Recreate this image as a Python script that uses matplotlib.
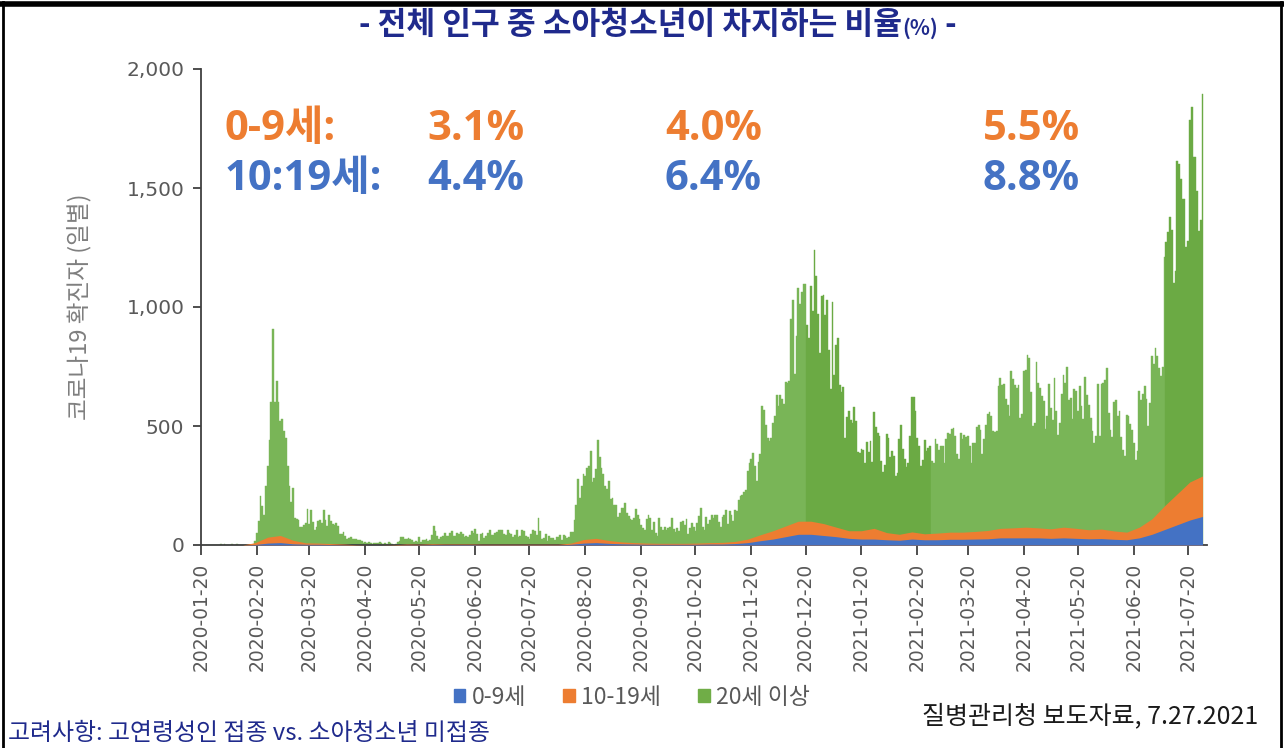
import numpy as np
import pandas as pd
import matplotlib
matplotlib.use('Agg')
import matplotlib.pyplot as plt
import matplotlib.dates as mdates
from matplotlib.patches import Patch
from matplotlib.lines import Line2D

plt.rcParams['font.family'] = ['Noto Sans CJK KR', 'DejaVu Sans']

# daily confirmed cases, all ages (2020-01-20 .. 2021-07-28)
total_2020_01 = [1, 0, 0, 0, 1, 0, 1, 1, 0, 0, 2, 5]
total_2020_02 = [1, 3, 0, 1, 2, 4, 1, 0, 3, 0, 1, 0, 0, 0, 0, 1, 0, 1, 15, 50,
                 100, 205, 165, 125, 250, 330, 440, 600, 909]
total_2020_03 = [600, 690, 600, 520, 530, 480, 450, 330, 250, 180, 240, 114, 110, 107, 76, 74,
                 84, 93, 152, 87, 147, 98, 64, 76, 100, 104, 91, 146, 105, 78, 125]
total_2020_04 = [101, 89, 86, 94, 81, 47, 47, 53, 39, 27, 30, 32, 25, 27, 27, 22, 22, 18, 8, 13,
                 9, 11, 8, 6, 10, 10, 10, 14, 9, 4]
total_2020_05 = [9, 6, 13, 8, 3, 2, 4, 12, 18, 34, 35, 27, 26, 29, 27, 19, 13, 15, 13, 32,
                 12, 20, 23, 25, 16, 19, 40, 79, 58, 39, 27]
total_2020_06 = [35, 38, 49, 39, 39, 51, 57, 38, 38, 50, 45, 56, 48, 34, 37, 34, 43, 59, 49, 67,
                 48, 17, 46, 51, 28, 39, 51, 62, 42, 43]
total_2020_07 = [50, 54, 63, 63, 61, 46, 44, 63, 49, 45, 35, 44, 62, 33, 39, 61, 60, 39, 34, 26,
                 45, 63, 59, 41, 113, 58, 25, 28, 48, 18, 36]
total_2020_08 = [31, 30, 23, 34, 33, 43, 20, 43, 36, 28, 34, 54, 56, 103, 166, 279, 197, 246, 297, 288,
                 324, 332, 397, 266, 280, 320, 441, 371, 323, 299, 248]
total_2020_09 = [235, 267, 195, 198, 168, 167, 119, 136, 156, 155, 176, 136, 121, 109, 106, 113, 153, 126, 110, 82,
                 70, 61, 110, 125, 114, 61, 95, 50, 38, 113]
total_2020_10 = [77, 63, 75, 64, 73, 75, 114, 69, 54, 72, 58, 98, 102, 84, 110, 47, 73, 91, 76, 58,
                 91, 121, 155, 77, 61, 119, 88, 103, 125, 114, 127]
total_2020_11 = [124, 97, 75, 118, 125, 145, 89, 143, 126, 100, 146, 143, 191, 205, 208, 223, 230, 313, 343, 363,
                 386, 330, 271, 349, 382, 583, 569, 504, 450, 438]
total_2020_12 = [451, 511, 540, 629, 583, 631, 615, 594, 686, 682, 689, 950, 1030, 718, 880, 1078, 1014, 1064, 1097, 1097,
                 926, 869, 1090, 985, 1241, 1132, 970, 808, 1045, 1050, 967]
total_2021_01 = [1029, 820, 657, 1020, 715, 840, 869, 674, 641, 665, 451, 537, 562, 524, 513, 580, 520, 389, 386, 404,
                 400, 346, 431, 392, 437, 349, 559, 497, 469, 458, 355]
total_2021_02 = [305, 336, 467, 451, 370, 393, 372, 288, 303, 444, 504, 403, 362, 326, 344, 457, 621, 621, 561, 448,
                 416, 332, 356, 440, 396, 406, 415, 355]
total_2021_03 = [344, 444, 424, 398, 418, 416, 346, 446, 470, 465, 488, 490, 459, 382, 363, 469, 445, 463, 452, 456,
                 415, 346, 428, 430, 494, 505, 482, 382, 447, 506, 551]
total_2021_04 = [557, 543, 477, 473, 478, 668, 700, 671, 677, 614, 587, 542, 731, 698, 673, 658, 672, 532, 549, 731,
                 735, 797, 785, 644, 499, 512, 769, 679, 661, 627]
total_2021_05 = [606, 488, 541, 676, 574, 525, 701, 564, 463, 511, 635, 715, 681, 747, 610, 619, 528, 654, 646, 561,
                 666, 585, 530, 707, 629, 588, 533, 478, 430, 459, 677]
total_2021_06 = [459, 677, 681, 695, 744, 556, 485, 454, 602, 611, 540, 565, 452, 399, 373, 545, 540, 507, 482, 429,
                 357, 395, 645, 610, 634, 668, 614, 501, 595, 794]
total_2021_07 = [762, 826, 794, 743, 711, 746, 1212, 1275, 1316, 1378, 1324, 1100, 1150, 1615, 1600, 1536, 1452, 1454, 1252, 1278,
                 1784, 1842, 1630, 1629, 1487, 1318, 1365, 1896]

# weekly level of the two youngest groups (every 7 days from 2020-01-22)
age_0_9 = [0, 0, 0, 0, 2, 8, 10, 5, 3, 3, 2, 1, 0, 0, 0, 0, 1, 1, 2, 2,
           2, 2, 1, 1, 1, 1, 1, 1, 1, 3, 8, 10, 7, 5, 4, 3, 3, 3, 3, 3,
           4, 4, 6, 10, 18, 25, 35, 45, 45, 40, 35, 28, 25, 25, 22, 20, 25, 22, 22, 24,
           24, 25, 26, 30, 30, 30, 30, 28, 30, 28, 26, 27, 24, 22, 30, 45, 65, 85, 105, 120]
age_10_19 = [0, 0, 0, 0, 8, 25, 30, 15, 6, 5, 4, 3, 1, 0, 0, 1, 3, 2, 3, 2,
             2, 2, 2, 2, 2, 2, 2, 2, 2, 5, 15, 18, 12, 8, 6, 5, 4, 4, 4, 5,
             6, 7, 9, 15, 25, 35, 45, 55, 55, 50, 40, 32, 35, 45, 30, 25, 30, 25, 28, 30,
             30, 32, 35, 40, 42, 45, 42, 40, 45, 42, 38, 40, 35, 32, 45, 65, 100, 130, 160, 170]

labels = ['0-9세', '10-19세', '20세 이상']
colors = ['#4472C4', '#ED7D31', '#70AD47']

note_rows = ['0-9세:', '10:19세:']
note_pcts = [['3.1%', '4.0%', '5.5%'], ['4.4%', '6.4%', '8.8%']]

total = np.array(total_2020_01 + total_2020_02 + total_2020_03 + total_2020_04 + total_2020_05 +
                 total_2020_06 + total_2020_07 + total_2020_08 + total_2020_09 + total_2020_10 +
                 total_2020_11 + total_2020_12 + total_2021_01 + total_2021_02 + total_2021_03 +
                 total_2021_04 + total_2021_05 + total_2021_06 + total_2021_07)
days = pd.date_range('2020-01-20', periods=len(total), freq='D')
weeks = pd.date_range('2020-01-22', periods=len(age_0_9), freq='7D')
a = np.array(age_0_9)
b = np.array(age_10_19)

# the source picture has bands of slightly different green
light_g, dark_g = '#79B557', '#6BAA44'
bar_cols = []
for d in days:
    if d < pd.Timestamp('2020-12-21'):
        bar_cols.append(light_g)
    elif d < pd.Timestamp('2021-02-28'):
        bar_cols.append(dark_g)
    elif d < pd.Timestamp('2021-07-08'):
        bar_cols.append(light_g)
    else:
        bar_cols.append(dark_g)

fig = plt.figure(figsize=(12.84, 7.48), dpi=100)
ax = fig.add_axes([201/1284, 1-545/748, 1006/1284, 476/748])

ax.bar(days, total, width=1.0, color=bar_cols, edgecolor=bar_cols, linewidth=0.3, zorder=2)
ax.fill_between(weeks, 0, a + b, color=colors[1], lw=0, zorder=3)
ax.fill_between(weeks, 0, a, color=colors[0], lw=0, zorder=4)

ax.set_ylim(0, 2000)
ax.set_xlim(pd.Timestamp('2020-01-20'), pd.Timestamp('2020-01-20') + pd.Timedelta(days=557.5))
ax.set_yticks([0, 500, 1000, 1500, 2000])
ax.set_yticklabels(['{:,}'.format(v) for v in [0, 500, 1000, 1500, 2000]])
xt = pd.date_range('2020-01-01', '2021-07-01', freq='MS') + pd.Timedelta(days=19)
ax.set_xticks(xt)
ax.xaxis.set_major_formatter(mdates.DateFormatter('%Y-%m-%d'))
for lab in ax.get_xticklabels():
    lab.set_rotation(90)
    lab.set_family('DejaVu Sans')
for lab in ax.get_yticklabels():
    lab.set_family('DejaVu Sans')
ax.tick_params(axis='x', colors='#404040', labelcolor='#595959', labelsize=13.5, length=7, width=1.3, pad=6)
ax.tick_params(axis='y', colors='#404040', labelcolor='#595959', labelsize=14.5, length=6, width=1.3, pad=6)
for s in ['top', 'right']:
    ax.spines[s].set_visible(False)
for s in ['left', 'bottom']:
    ax.spines[s].set_color('#404040')
    ax.spines[s].set_linewidth(1.3)
ax.set_ylabel('코로나19 확진자 (일별)', fontsize=17, color='#7F7F7F')
ax.yaxis.set_label_coords(-0.108, 0.5)

# percent notes
row_y = [130, 180]
col_x = [427, 665, 983]
note_font = ['Open Sans', 'Noto Sans CJK KR']
for i, name in enumerate(note_rows):
    c = colors[1] if i == 0 else colors[0]
    fig.text(225/1284, 1-row_y[i]/748, name, fontsize=30, fontweight='bold', color=c, va='center',
             family=note_font)
    for j, p in enumerate(note_pcts[i]):
        fig.text(col_x[j]/1284, 1-row_y[i]/748, p, fontsize=30, fontweight='bold', color=c,
                 va='center', ha='left', family=note_font)

# title with smaller (%)
navy = '#1F2A8C'
fig.canvas.draw()
r = fig.canvas.get_renderer()
t1 = fig.text(0, 1-25/748, '- 전체 인구 중 소아청소년이 차지하는 비율', fontsize=22.5, fontweight='bold', color=navy, va='center')
t2 = fig.text(0, 1-28/748, '(%)', fontsize=15, fontweight='bold', color=navy, va='center')
t3 = fig.text(0, 1-25/748, ' -', fontsize=22.5, fontweight='bold', color=navy, va='center')
w = [t.get_window_extent(r).width for t in (t1, t2, t3)]
x0 = 658 - sum(w)/2
for t, wi in zip((t1, t2, t3), w):
    t.set_x(x0/1284)
    x0 += wi

handles = [Patch(color=c) for c in colors]
fig.legend(handles, labels, loc='center', bbox_to_anchor=(632/1284, 1-697/748), ncol=3, frameon=False,
           fontsize=16.5, handlelength=0.5, handleheight=0.5, handletextpad=0.3, columnspacing=1.6,
           labelcolor='#595959')

fig.text(1258/1284, 1-716/748, '질병관리청 보도자료, 7.27.2021', fontsize=18, color='#1a1a1a', ha='right', va='center')
fig.text(8/1284, 1-733/748, '고려사항: 고연령성인 접종 vs. 소아청소년 미접종', fontsize=17.2, color=navy, ha='left', va='center')

# frame of the picture
fig.add_artist(Line2D([0.002, 0.002], [0, 0.997], transform=fig.transFigure, color='black', lw=2))
fig.add_artist(Line2D([0.998, 0.998], [0, 0.997], transform=fig.transFigure, color='black', lw=2))
fig.add_artist(Line2D([0.0, 1.0], [0.995, 0.995], transform=fig.transFigure, color='black', lw=4))

fig.savefig('out.png', dpi=100)
